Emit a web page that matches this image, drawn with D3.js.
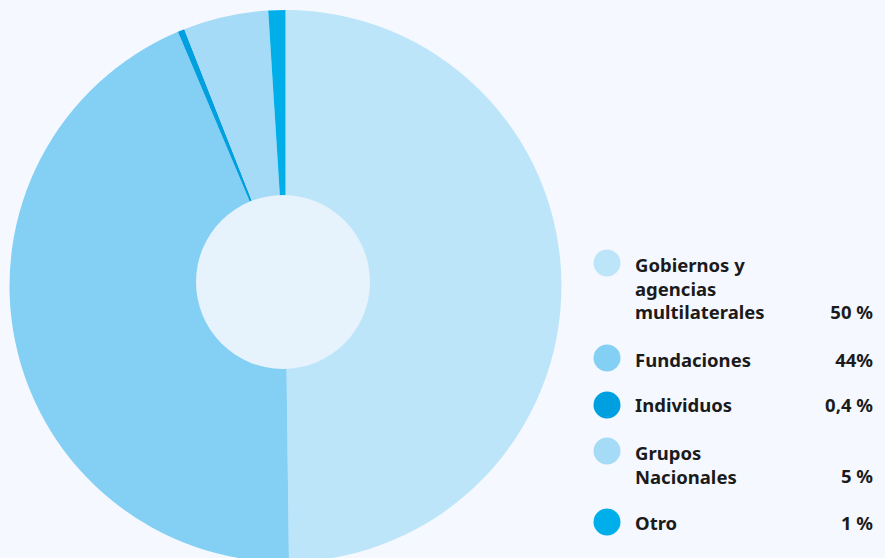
<!DOCTYPE html>
<html><head><meta charset="utf-8">
<script src="https://cdn.jsdelivr.net/npm/d3@7"></script>
<style>
html,body{margin:0;padding:0;background:#f5f9ff;}
svg{display:block;}
text{font-family:"Noto Sans","Lato",sans-serif;font-weight:700;fill:#1b1b1b;}
</style></head>
<body>
<svg id="chart" width="885" height="558"></svg>
<script>
const categories = [["Gobiernos y","agencias","multilaterales"],["Fundaciones"],["Individuos"],["Grupos","Nacionales"],["Otro"]];
const values = [50, 44, 0.4, 5, 1];
const valueLabels = ["50 %", "44%", "0,4 %", "5 %", "1 %"];
const colors = ["#bde5f9", "#84d0f4", "#009fe0", "#a5dbf6", "#00aee9"];

const svg = d3.select("#chart");
const cx = 285.5, cy = 286, R = 276;
const data = values.map((v,i)=>({v, i}));
const pie = d3.pie().sort(null).value(d=>d.v);
const arc = d3.arc().innerRadius(0).outerRadius(R);
const g = svg.append("g").attr("transform",`translate(${cx},${cy})`);
g.selectAll("path").data(pie(data)).join("path")
  .attr("d", arc).attr("fill", d=>colors[d.data.i]);
svg.append("circle").attr("cx",283).attr("cy",282).attr("r",87).attr("fill","#e6f2fc");

// legend
const circleY = [263, 358, 405, 451, 522];
const firstBase = [272, 367, 412, 460, 530];
const valueBase = [319, 367, 412, 483, 530];
const lh = 23.5;
const fs = 18.5;
const lg = svg.append("g");
categories.forEach((lines,i)=>{
  lg.append("circle").attr("cx",607).attr("cy",circleY[i]).attr("r",13.5).attr("fill",colors[i]);
  const t = lg.append("text").attr("x",635).attr("y",firstBase[i]).attr("font-size",fs);
  lines.forEach((l,j)=>t.append("tspan").attr("x",635).attr("y",firstBase[i]+j*lh).text(l));
  lg.append("text").attr("x",873).attr("y",valueBase[i]).attr("text-anchor","end").attr("font-size",fs).text(valueLabels[i]);
});
</script>
</body></html>
